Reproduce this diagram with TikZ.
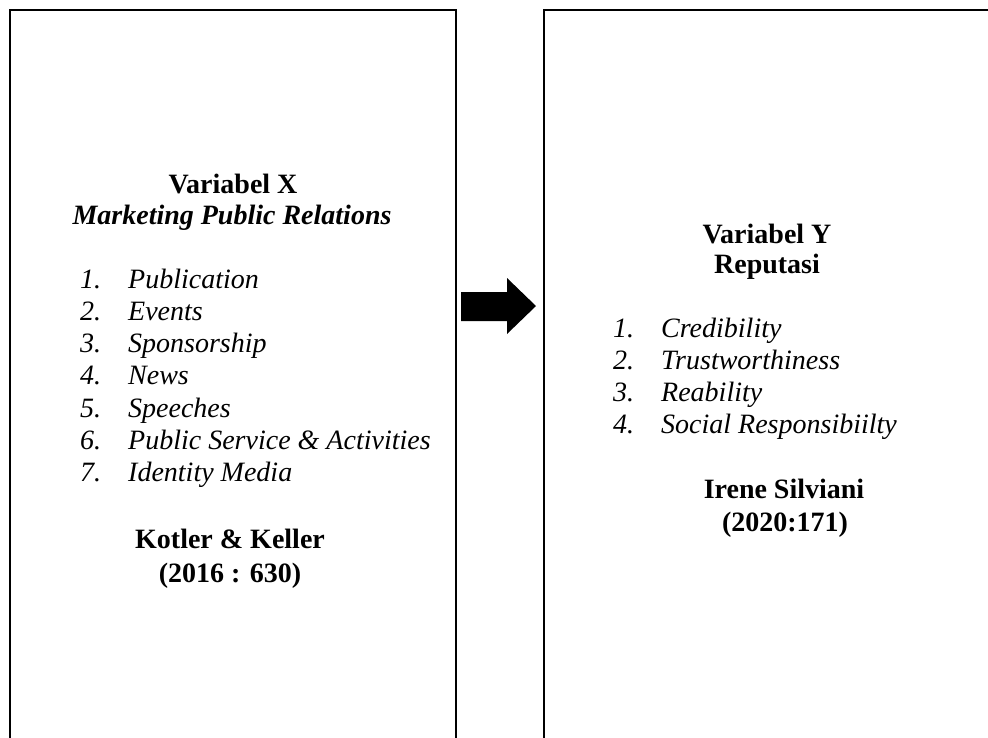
\documentclass[tikz,border=0pt]{standalone}
\usepackage{fontspec}
\setmainfont{Liberation Serif}
\begin{document}
\begin{tikzpicture}[x=1pt,y=-1pt,
  boxline/.style={line width=2.5pt,line cap=rect},
  txt/.style={inner sep=0pt,font=\fontsize{28}{32}\selectfont},
  ctr/.style={txt,anchor=base},
  bctr/.style={ctr,font=\fontsize{28}{32}\selectfont\bfseries},
  lft/.style={txt,anchor=base west},
  num/.style={lft,font=\fontsize{28}{32}\selectfont\itshape},
  itm/.style={lft,font=\fontsize{28}{32}\selectfont\itshape}]
\useasboundingbox (0,0) rectangle (988,737);
% boxes
\coordinate (lb1) at (10,745);
\coordinate (lt1) at (10,10);
\coordinate (lt2) at (456,10);
\coordinate (lb2) at (456,745);
\coordinate (rb1) at (544,745);
\coordinate (rt1) at (544,10);
\coordinate (rt2) at (995,10);
\draw[boxline] (lb1) -- (lt1) -- (lt2) -- (lb2);
\draw[boxline] (rb1) -- (rt1) -- (rt2);
% arrow
\fill[black] (461,292) -- (507,292) -- (507,278) -- (536,306) -- (507,334) -- (507,321) -- (461,321) -- cycle;
% left text
\node[bctr] (vx) at (233,193) {Variabel X};
\node[ctr,font=\fontsize{28}{32}\selectfont\bfseries\itshape] (mpr) at (232,224) {Marketing Public Relations};
\foreach \i/\t [count=\k] in {1/Publication,2/Events,3/Sponsorship,4/News,5/Speeches,6/Public Service \& Activities,7/Identity Media}{
  \node[num] (ln\k) at (80,{288+32.3*(\k-1)}) {\i.};
  \node[itm] (li\k) at (128,{288+32.3*(\k-1)}) {\t};
}
\node[bctr] (kk) at (230,548) {Kotler \& Keller};
\node[bctr] (kky) at (230,582) {(2016 : 630)};
% right text
\node[bctr] (vy) at (767,243) {Variabel Y};
\node[bctr] (rep) at (767,273) {Reputasi};
\foreach \i/\t [count=\k] in {1/Credibility,2/Trustworthiness,3/Reability,4/Social Responsibiilty}{
  \node[num] (rn\k) at (613,{337+32*(\k-1)}) {\i.};
  \node[itm] (ri\k) at (661,{337+32*(\k-1)}) {\t};
}
\node[bctr] (is) at (784,498) {Irene Silviani};
\node[bctr] (isy) at (785,531) {(2020:171)};
\end{tikzpicture}
\end{document}
